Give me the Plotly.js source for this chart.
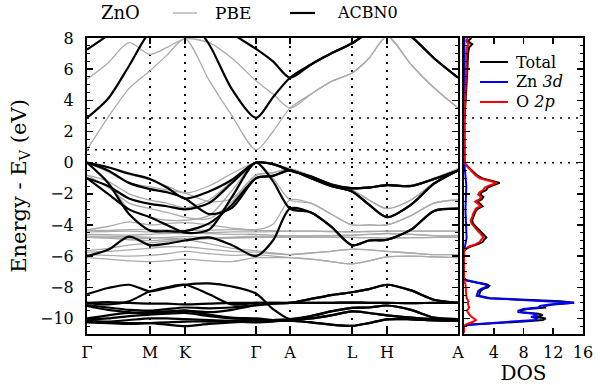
<!DOCTYPE html>
<html><head><meta charset="utf-8">
<script src="https://cdn.plot.ly/plotly-3.0.1.min.js"></script>
<style>html,body{margin:0;padding:0;background:#fff}#chart{width:600px;height:385px}</style>
</head><body><div id="chart"></div>
<script>
// k-path (cumulative distance, arbitrary units)
const kPath = [0,21,42,63,80,98,122,145,169,186,203,224,244,265,282,300,324,347,371];
const kTickPos = [0,63,98,169,203,265,300,371];
const kTickLabels = ['Γ','M','K','Γ','A','L','H','A'];
const vbm = 0;
const cbmPBE = 0.83;
const cbmACBN0 = 2.87;

// PBE bands (eV)
const pbeConduction = [
  [0.83,2.9,4.75,5.9,6.9,7.95,5.3,3.0,0.83,2.0,3.5,4.4,5.2,5.75,6.7,8.1,6.3,4.8,3.5],
  [5.35,6.4,7.7,6.95,7.4,7.95,7.7,6.7,5.25,4.4,3.5,4.4,5.2,5.75,6.7,8.1,6.3,4.8,3.5]
];
const pbeValence = [
  [0,-0.3,-0.75,-1.1,-1.5,-1.95,-1.5,-0.7,0,-0.1,-0.4,-0.85,-1.35,-1.6,-1.55,-1.45,-1.45,-1.0,-0.4],
  [0,-0.6,-1.3,-1.55,-1.75,-1.95,-2.5,-2.3,-0.8,-0.65,-0.4,-0.9,-1.4,-1.75,-2.4,-2.95,-2.4,-1.3,-0.4],
  [-0.8,-1.2,-2.0,-2.4,-2.6,-2.9,-2.4,-1.2,0,-0.1,-0.4,-0.9,-1.4,-1.75,-2.4,-2.95,-2.4,-1.3,-0.4],
  [-0.8,-1.6,-2.6,-2.95,-3.2,-3.5,-3.6,-2.5,-0.8,-0.65,-0.4,-0.85,-1.35,-1.6,-1.55,-1.45,-1.45,-1.0,-0.4],
  [0,-1.2,-3.0,-3.5,-3.7,-3.7,-3.4,-1.8,0,-1.0,-2.4,-2.6,-3.3,-4.0,-4.0,-4.0,-3.4,-2.6,-2.4],
  [-4.3,-4.1,-3.8,-4.0,-3.9,-3.85,-4.0,-4.2,-4.3,-3.95,-2.4,-2.6,-3.3,-4.0,-4.0,-4.0,-3.4,-2.6,-2.4]
];
const pbeDBands = [
  [-4.35,-4.35,-4.3,-4.3,-4.32,-4.35,-4.33,-4.3,-4.35,-4.37,-4.4,-4.4,-4.42,-4.45,-4.42,-4.4,-4.4,-4.4,-4.4],
  [-4.45,-4.42,-4.4,-4.45,-4.5,-4.55,-4.5,-4.45,-4.45,-4.43,-4.4,-4.4,-4.42,-4.45,-4.42,-4.4,-4.4,-4.4,-4.4],
  [-4.6,-4.62,-4.65,-4.6,-4.55,-4.5,-4.55,-4.6,-4.6,-4.65,-4.7,-4.7,-4.68,-4.65,-4.6,-4.55,-4.6,-4.68,-4.7],
  [-4.72,-4.72,-4.75,-4.8,-4.85,-4.9,-4.85,-4.78,-4.72,-4.72,-4.7,-4.7,-4.68,-4.65,-4.6,-4.55,-4.6,-4.68,-4.7],
  [-4.8,-4.82,-4.85,-4.85,-4.8,-4.75,-4.8,-4.82,-4.8,-4.78,-4.78,-4.78,-4.78,-4.8,-4.82,-4.85,-4.82,-4.8,-4.78],
  [-4.8,-4.85,-4.95,-5.0,-4.95,-4.95,-4.9,-4.85,-4.8,-4.79,-4.78,-4.78,-4.78,-4.8,-4.82,-4.85,-4.82,-4.8,-4.78],
  [-5.65,-5.5,-5.3,-5.15,-5.05,-4.95,-5.2,-5.5,-5.65,-5.8,-5.9,-5.8,-5.7,-5.55,-5.6,-5.7,-5.8,-5.9,-5.9],
  [-5.75,-5.7,-5.6,-5.5,-5.4,-5.4,-5.55,-5.7,-5.75,-5.85,-5.9,-5.8,-5.7,-5.55,-5.6,-5.7,-5.8,-5.9,-5.9],
  [-5.9,-5.95,-6.0,-5.95,-5.85,-5.7,-5.85,-5.95,-5.9,-6.0,-6.1,-6.2,-6.35,-6.5,-6.3,-6.05,-6.0,-6.05,-6.1],
  [-6.1,-6.2,-6.3,-6.35,-6.3,-6.2,-6.3,-6.35,-6.1,-6.1,-6.1,-6.2,-6.35,-6.5,-6.3,-6.05,-6.0,-6.05,-6.1]
];

// ACBN0 bands (eV)
const acbnConduction = [
  [2.87,4.1,6.2,8.4,9.0,9.5,7.6,4.7,2.87,4.2,5.45,6.3,7.0,7.66,8.4,9.0,8.1,6.7,5.45],
  [7.26,8.2,9.5,9.8,9.8,9.8,9.5,8.3,7.3,6.5,5.45,6.3,7.0,7.66,8.4,9.0,8.1,6.7,5.45]
];
const acbnValence = [
  [0,-0.3,-0.7,-1.05,-1.6,-2.3,-1.85,-1.1,0,-0.1,-0.5,-0.9,-1.4,-1.65,-1.6,-1.45,-1.5,-1.05,-0.5],
  [0,-0.5,-1.3,-1.7,-1.9,-2.3,-3.3,-2.9,-1.0,-0.85,-0.5,-1.0,-1.5,-1.85,-2.7,-3.5,-2.7,-1.35,-0.5],
  [0,-1.3,-3.3,-4.35,-4.4,-4.4,-3.9,-2.7,-1.0,-0.85,-0.5,-1.0,-1.5,-1.85,-2.7,-3.5,-2.7,-1.35,-0.5],
  [-1.0,-1.5,-2.3,-2.65,-2.8,-3.0,-2.6,-1.3,0,-0.1,-0.5,-0.9,-1.4,-1.65,-1.6,-1.45,-1.5,-1.05,-0.5],
  [-1.0,-2.0,-3.0,-3.5,-4.0,-4.5,-4.3,-2.2,0,-1.2,-2.95,-3.2,-4.1,-5.3,-5.0,-4.95,-4.3,-3.1,-2.95],
  [-6.0,-5.6,-4.75,-5.3,-5.2,-5.0,-4.8,-5.3,-6.0,-5.0,-2.95,-3.2,-4.1,-5.3,-5.0,-4.95,-4.3,-3.1,-2.95]
];
const acbnDBands = [
  [-8.45,-8.05,-7.84,-8.26,-8.05,-7.84,-7.75,-7.95,-8.4,-9.4,-10.05,-9.85,-9.55,-9.32,-9.3,-9.17,-9.45,-9.95,-10.05],
  [-9.0,-9.1,-8.9,-8.26,-8.0,-7.84,-8.45,-9.1,-9.0,-9.0,-9.0,-8.75,-8.5,-8.32,-8.12,-7.84,-8.2,-8.8,-9.0],
  [-9.0,-8.95,-9.0,-9.05,-9.05,-9.1,-9.05,-9.0,-9.0,-9.0,-9.0,-9.0,-9.0,-8.98,-9.0,-9.0,-9.02,-9.0,-9.0],
  [-9.15,-9.3,-9.45,-9.5,-9.4,-9.3,-9.35,-9.3,-9.15,-9.05,-9.0,-8.75,-8.5,-8.32,-8.12,-7.84,-8.2,-8.8,-9.0],
  [-9.2,-9.45,-9.6,-9.7,-9.6,-9.5,-9.6,-9.45,-9.15,-9.05,-9.0,-9.0,-9.0,-8.98,-9.0,-9.0,-9.02,-9.0,-9.0],
  [-10.0,-9.8,-9.65,-9.6,-9.55,-9.5,-9.75,-9.95,-10.0,-10.1,-10.15,-10.25,-10.4,-10.48,-10.3,-10.06,-10.06,-10.12,-10.15],
  [-10.05,-10.0,-9.85,-9.75,-9.7,-9.65,-9.85,-10.0,-10.05,-10.1,-10.1,-10.0,-9.8,-9.55,-9.65,-9.8,-9.95,-10.05,-10.1],
  [-10.15,-10.2,-10.1,-10.0,-10.0,-10.05,-10.1,-10.15,-10.15,-10.15,-10.15,-10.25,-10.4,-10.48,-10.3,-10.06,-10.06,-10.12,-10.15],
  [-10.2,-10.25,-10.3,-10.3,-10.4,-10.5,-10.35,-10.25,-10.2,-10.1,-10.05,-9.85,-9.55,-9.32,-9.3,-9.17,-9.45,-9.95,-10.05],
  [-10.25,-10.3,-10.35,-10.3,-10.25,-10.2,-10.2,-10.2,-10.25,-10.2,-10.1,-10.0,-9.8,-9.55,-9.65,-9.8,-9.95,-10.05,-10.1]
];

// DOS (ACBN0)
const dosEnergy = [8.0,7.8,7.6,7.4,7.2,7.0,6.0,5.0,4.0,3.2,2.9,2.8,0.2,0.0,-0.2,-0.4,-0.6,-0.8,-1.0,-1.15,-1.3,-1.45,-1.6,-1.75,-1.9,-2.05,-2.2,-2.35,-2.5,-2.65,-2.8,-2.95,-3.1,-3.3,-3.5,-3.7,-3.9,-4.1,-4.3,-4.5,-4.65,-4.8,-4.95,-5.1,-5.25,-5.4,-5.55,-5.7,-7.4,-7.55,-7.7,-7.8,-7.9,-8.0,-8.1,-8.25,-8.4,-8.55,-8.7,-8.8,-8.9,-9.0,-9.1,-9.2,-9.3,-9.4,-9.5,-9.6,-9.7,-9.8,-9.9,-10.0,-10.1,-10.2,-10.3,-10.4,-10.5,-10.9];
const dosTotal = [1.0,0.5,1.1,0.7,0.6,0.55,0.45,0.35,0.25,0.12,0.03,0,0,0.05,0.4,0.8,1.2,1.7,2.4,3.6,4.8,3.9,3.2,3.0,2.4,2.2,2.6,2.4,1.8,2.2,2.5,1.9,1.6,1.4,1.3,1.1,1.2,1.6,2.0,2.5,2.8,3.0,2.7,2.5,1.8,0.8,0.2,0,0,0.3,1.8,3.0,3.4,3.2,2.6,2.2,2.1,2.0,3.5,7.5,13.0,14.8,12.0,10.8,10.9,8.5,7.6,7.8,10.0,10.6,9.5,11.0,10.6,8.0,3.5,0.8,0,0];
const dosZn3d = [0.05,0.05,0.05,0.05,0.05,0.05,0.05,0.05,0.05,0.05,0.03,0,0,0,0.05,0.1,0.15,0.2,0.25,0.3,0.35,0.3,0.3,0.28,0.25,0.25,0.25,0.22,0.2,0.2,0.2,0.2,0.2,0.2,0.2,0.2,0.22,0.25,0.3,0.32,0.35,0.35,0.3,0.25,0.2,0.1,0.05,0,0,0.3,1.6,2.7,3.1,2.9,2.3,1.9,1.8,1.7,3.2,7.0,12.5,14.8,11.5,10.2,10.0,8.0,7.3,7.3,9.4,9.8,9.0,9.8,9.6,6.8,2.8,0.5,0,0];
const dosO2p = [0.5,0.3,0.6,0.4,0.35,0.3,0.3,0.25,0.2,0.1,0.02,0,0,0.05,0.35,0.7,1.05,1.5,2.1,3.2,4.4,3.5,2.8,2.6,2.1,1.9,2.3,2.1,1.5,1.9,2.2,1.6,1.4,1.2,1.1,0.9,1.0,1.3,1.7,2.1,2.4,2.6,2.3,2.1,1.5,0.6,0.1,0,0,0,0.1,0.2,0.25,0.25,0.25,0.25,0.3,0.3,0.35,0.5,0.6,0.5,0.5,0.6,0.7,0.6,0.4,0.5,0.6,0.8,1.0,1.3,1.6,1.3,0.6,0.2,0,0];
const dosTicks = [4,8,12,16];

const FONT = 'DejaVu Serif';
const pbeColor = '#ababab', acbnColor = '#000000';
const traces = [];
function band(y, color, width){
  return {x:kPath, y:y, mode:'lines', xaxis:'x', yaxis:'y', hoverinfo:'skip', showlegend:false,
    line:{color:color, width:width, shape:'spline', smoothing:0.8}};
}
[...pbeDBands, ...pbeValence, ...pbeConduction].forEach(b=>traces.push(band(b,pbeColor,1.3)));
[...acbnDBands, ...acbnValence, ...acbnConduction].forEach(b=>traces.push(band(b,acbnColor,2.2)));
const dosSeries = [['Total',dosTotal,'#000000'],['Zn 3d',dosZn3d,'#0000ff'],['O 2p',dosO2p,'#ff0000']];
dosSeries.forEach(s=>traces.push({x:s[1], y:dosEnergy, name:s[0], mode:'lines', xaxis:'x2', yaxis:'y2',
  hoverinfo:'skip', showlegend:false, line:{color:s[2], width:2}}));

const dot = '2px,6px';
const hline = (xr, yr, y) => ({type:'line', xref:xr, x0:0, x1:1, yref:yr, y0:y, y1:y, layer:'below',
  line:{color:'black', width:1.5, dash:dot}});
const shapes = [hline('x domain','y',vbm), hline('x domain','y',cbmPBE), hline('x domain','y',cbmACBN0),
  hline('x2 domain','y2',vbm), hline('x2 domain','y2',cbmACBN0),
  {type:'line', xref:'paper', yref:'paper', x0:0.1734, x1:0.2218, y0:1.0845, y1:1.0845, line:{color:pbeColor, width:1.3}},
  {type:'line', xref:'paper', yref:'paper', x0:0.4093, x1:0.4597, y0:1.0845, y1:1.0845, line:{color:acbnColor, width:2.2}},
];
const legY = [0.9189, 0.8514, 0.7838];
const legText = ['Total','Zn <i>3d</i>','O <i>2p</i>'];
dosSeries.forEach((s,i)=>shapes.push({type:'line', xref:'paper', yref:'paper', x0:0.7923, x1:0.8488, y0:legY[i], y1:legY[i], line:{color:s[2], width:2}}));
const annotations = [
  {text:'ZnO', xref:'paper', yref:'paper', x:0.0685, y:1.0845, xanchor:'center', yanchor:'middle', showarrow:false, font:{family:FONT, size:18}},
  {text:'PBE', xref:'paper', yref:'paper', x:0.254, y:1.0845, xanchor:'left', yanchor:'middle', showarrow:false, font:{family:FONT, size:17}},
  {text:'ACBN0', xref:'paper', yref:'paper', x:0.50, y:1.0845, xanchor:'left', yanchor:'middle', showarrow:false, font:{family:FONT, size:16}},
];
legText.forEach((t,i)=>annotations.push({text:t, xref:'paper', yref:'paper', x:0.8609, y:legY[i], xanchor:'left', yanchor:'middle', showarrow:false, font:{family:FONT, size:16}}));

const axLine = {showline:true, linewidth:2, linecolor:'black', mirror:'ticks', zeroline:false, tickcolor:'black',
  tickfont:{family:FONT, size:16, color:'black'}};
const yMinor = {ticks:'inside', ticklen:3, dtick:0.5, tick0:0, tickwidth:1, tickcolor:'black', showgrid:false};
const layout = {
  width:600, height:385, margin:{l:87, r:17, t:38, b:51},
  paper_bgcolor:'white', plot_bgcolor:'white',
  font:{family:FONT, size:16, color:'black'},
  showlegend:false, shapes:shapes, annotations:annotations,
  xaxis:Object.assign({domain:[0,0.748], range:[0,371], tickmode:'array', tickvals:kTickPos, ticktext:kTickLabels,
    ticks:'inside', ticklen:6, tickwidth:1.5, showgrid:true, gridcolor:'black', gridwidth:1.5, griddash:dot,
    ticklabelstandoff:3, anchor:'y'}, axLine),
  yaxis:Object.assign({domain:[0,1], range:[-11,8], tickmode:'linear', tick0:0, dtick:2, ticks:'inside', ticklen:6, tickwidth:1.5,
    minor:yMinor, showgrid:false, ticklabelstandoff:8, anchor:'x',
    title:{text:'Energy - E<sub>V</sub> (eV)', font:{family:FONT, size:21}, standoff:8}}, axLine),
  xaxis2:Object.assign({domain:[0.7601,1], range:[0,16], tickmode:'array', tickvals:dosTicks, ticks:'inside', ticklen:6, tickwidth:1.5,
    showgrid:false, anchor:'y2', ticklabelstandoff:3, title:{text:'DOS', font:{family:FONT, size:20}, standoff:5}}, axLine),
  yaxis2:Object.assign({domain:[0,1], range:[-11,8], matches:'y', tickmode:'linear', tick0:0, dtick:2, ticks:'inside', ticklen:6, tickwidth:1.5,
    minor:yMinor, showgrid:false, showticklabels:false, anchor:'x2'}, axLine)
};
Plotly.newPlot('chart', traces, layout, {staticPlot:true, displayModeBar:false});
</script>
</body></html>
